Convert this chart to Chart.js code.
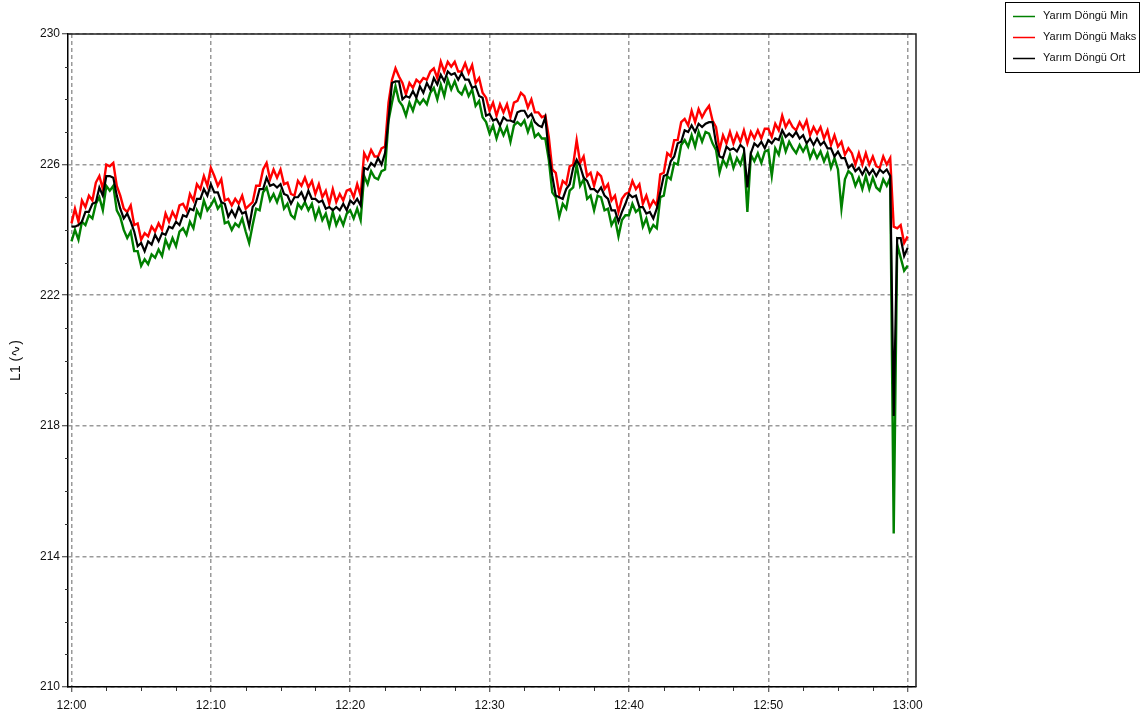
<!DOCTYPE html>
<html><head><meta charset="utf-8">
<script src="https://cdn.jsdelivr.net/npm/chart.js@4.4.1/dist/chart.umd.min.js"></script>
<style>html,body{margin:0;padding:0;background:#fff;}canvas{display:block;}</style>
</head><body>
<canvas id="c" width="1142" height="722"></canvas>
<script>
// ---- data ----
const seriesLabels = ['Yarım Döngü Min', 'Yarım Döngü Maks', 'Yarım Döngü Ort'];
const seriesColors = ['#008000', '#ff0000', '#000000'];
const startMinute = 0;        // 12:00
const stepMinutes = 0.25;     // sample spacing (minutes)
const yTickValues = [210, 214, 218, 222, 226, 230];
const xTickMinutes = [0, 10, 20, 30, 40, 50, 60];
const yTitle = 'L1 (\u223F)';

const minValues = [
223.65,224.0,223.7,224.25,224.15,224.45,224.35,224.8,
225.0,224.6,225.35,225.2,225.35,224.6,224.4,224.0,
223.75,223.95,223.35,223.35,222.9,223.1,222.95,223.25,
223.15,223.4,223.2,223.7,223.45,223.75,223.5,223.95,
224.05,223.85,224.25,224.05,224.6,224.4,224.9,224.6,
224.75,224.95,224.65,224.8,224.2,224.25,224.0,224.2,
224.1,224.35,223.95,223.6,224.15,224.65,224.6,225.15,
225.3,224.9,225.1,224.85,225.15,224.65,224.8,224.45,
224.35,224.8,224.65,224.85,224.6,224.8,224.35,224.65,
224.3,224.5,224.1,224.55,224.15,224.4,224.15,224.5,
224.6,224.35,224.65,224.3,225.65,225.4,225.8,225.6,
225.55,225.8,225.85,227.35,227.9,228.4,227.95,227.8,
227.5,227.9,227.65,228.0,227.85,228.0,227.85,228.2,
228.35,228.0,228.45,228.1,228.6,228.3,228.55,228.25,
228.15,228.4,228.1,228.3,227.8,227.95,227.45,227.3,
226.95,227.2,226.8,227.15,226.9,227.15,226.7,227.2,
227.3,227.2,227.35,227.0,227.3,226.85,226.95,226.8,
226.8,226.15,225.15,225.0,224.4,224.8,224.65,225.2,
225.3,226.0,225.35,225.55,224.95,225.05,224.6,225.05,
225.0,224.6,224.65,224.15,224.35,223.8,224.3,224.45,
224.45,224.8,224.55,224.65,224.1,224.35,223.95,224.15,
224.05,225.0,225.05,225.65,225.55,226.05,226.0,226.6,
226.75,226.55,226.9,226.55,227.0,226.7,227.0,226.95,
226.65,226.45,225.75,226.15,225.95,226.3,225.9,226.2,
226.0,226.35,224.55,226.3,226.1,226.35,226.05,226.4,
226.45,225.65,226.5,226.3,226.8,226.4,226.7,226.5,
226.35,226.6,226.4,226.6,226.2,226.45,226.2,226.4,
226.1,226.35,225.9,226.2,225.85,224.65,225.55,225.8,
225.7,225.35,225.6,225.25,225.65,225.25,225.6,225.3,
225.2,225.55,225.35,225.6,214.7,223.55,223.15,222.75,
222.9
];

const maxValues = [
224.2,224.65,224.25,224.9,224.7,225.05,224.9,225.45,
225.65,225.25,226.0,225.95,226.05,225.35,225.05,224.65,
224.55,224.75,224.15,224.2,223.7,223.9,223.8,224.1,
223.95,224.2,224.0,224.5,224.25,224.55,224.35,224.75,
224.8,224.6,225.1,224.9,225.4,225.25,225.65,225.35,
225.9,225.65,225.35,225.55,224.9,224.95,224.75,224.95,
224.8,225.05,224.65,224.75,224.85,225.35,225.35,225.85,
226.05,225.55,225.85,225.6,225.85,225.4,225.45,225.1,
225.05,225.5,225.35,225.6,225.3,225.5,225.1,225.4,
225.0,225.2,224.8,225.25,224.85,225.1,224.9,225.2,
225.25,225.0,225.4,225.05,226.35,226.15,226.45,226.25,
226.25,226.5,226.55,227.9,228.6,228.95,228.7,228.5,
228.15,228.5,228.35,228.6,228.5,228.65,228.6,228.85,
228.95,228.65,229.15,228.85,229.15,229.0,229.15,228.85,
228.85,229.1,228.8,229.05,228.5,228.65,228.2,228.05,
227.65,227.9,227.5,227.85,227.6,227.85,227.45,227.9,
227.95,228.2,228.1,227.75,228.0,227.6,227.6,227.45,
227.5,226.85,225.85,225.75,225.1,225.5,225.4,225.95,
226.0,226.75,226.05,226.25,225.65,225.75,225.35,225.75,
225.65,225.25,225.4,224.9,225.05,224.55,224.95,225.1,
225.15,225.5,225.25,225.4,224.8,225.05,224.7,224.9,
224.75,225.7,225.75,226.35,226.25,226.75,226.75,227.3,
227.4,227.2,227.65,227.3,227.7,227.45,227.65,227.8,
227.35,227.15,226.45,226.9,226.65,227.0,226.65,226.95,
226.7,227.05,226.65,227.0,226.8,227.05,226.8,227.1,
227.1,226.85,227.25,227.05,227.5,227.15,227.35,227.15,
227.05,227.3,227.1,227.35,226.9,227.15,226.95,227.15,
226.8,227.05,226.6,226.9,226.55,226.7,226.3,226.5,
226.35,226.0,226.35,226.0,226.35,226.0,226.25,225.95,
225.9,226.25,226.0,226.2,224.1,224.05,224.15,223.6,
223.8
];

const avgValues = [
224.1,224.1,224.15,224.25,224.55,224.55,224.8,224.85,
225.3,225.05,225.65,225.65,225.6,225.05,224.65,224.35,
224.5,224.25,223.95,223.5,223.6,223.35,223.65,223.55,
223.85,223.65,223.9,223.85,224.1,224.05,224.25,224.15,
224.45,224.4,224.65,224.6,224.95,224.95,225.25,225.05,
225.4,225.15,225.15,224.85,224.8,224.4,224.6,224.4,
224.7,224.5,224.55,224.1,224.7,224.85,225.25,225.25,
225.6,225.35,225.4,225.3,225.4,225.1,225.05,224.8,
225.0,225.0,225.15,224.9,225.2,224.95,224.95,224.85,
224.9,224.65,224.7,224.6,224.7,224.6,224.8,224.6,
224.9,224.8,224.95,224.75,225.9,225.85,226.05,225.95,
226.2,226.0,226.35,227.4,228.5,228.55,228.55,228.0,
228.1,228.05,228.25,228.05,228.4,228.2,228.5,228.3,
228.65,228.45,228.75,228.55,228.85,228.75,228.8,228.6,
228.8,228.6,228.6,228.35,228.4,228.1,228.05,227.5,
227.55,227.35,227.4,227.2,227.45,227.35,227.35,227.3,
227.6,227.65,227.65,227.45,227.55,227.3,227.2,227.15,
227.45,226.35,225.65,225.05,225.0,224.95,225.25,225.4,
225.9,226.15,225.95,225.6,225.5,225.25,225.25,225.15,
225.3,225.05,224.95,224.6,224.6,224.25,224.55,224.8,
225.1,225.0,225.05,224.7,224.7,224.5,224.55,224.35,
224.65,225.15,225.65,225.7,226.1,226.25,226.65,226.7,
227.05,227.0,227.2,227.0,227.25,227.15,227.25,227.3,
227.3,226.65,226.25,226.2,226.55,226.45,226.5,226.4,
226.6,226.5,225.3,226.35,226.65,226.55,226.7,226.5,
226.75,226.65,226.8,226.75,227.05,226.85,226.95,226.85,
227.0,226.8,226.9,226.65,226.8,226.6,226.8,226.6,
226.7,226.5,226.5,226.25,226.4,226.2,226.2,225.9,
226.0,225.8,225.9,225.7,225.9,225.7,225.85,225.65,
225.85,225.75,225.85,225.65,218.3,223.75,223.75,223.2,
223.45
];

// ---- build library structures ----
function toPoints(values) {
  return values.map((v, i) => ({ x: startMinute + i * stepMinutes, y: v }));
}
const valueSets = [minValues, maxValues, avgValues];
const widths = [2.4, 2.4, 2.2];
const drawOrder = [2, 1, 0];

const fontFam = '"Liberation Sans", Arial, sans-serif';

function fmtTime(m) {
  const total = 12 * 60 + Math.round(m);
  const h = Math.floor(total / 60), mm = total % 60;
  return h + ':' + String(mm).padStart(2, '0');
}

const minorTicksPlugin = {
  id: 'minorTicks',
  afterDraw(chart) {
    const ctx = chart.ctx, xs = chart.scales.x, ys = chart.scales.y, a = chart.chartArea;
    ctx.save();
    ctx.strokeStyle = '#333';
    ctx.lineWidth = 1;
    for (let v = ys.min + 1; v < ys.max; v += 1) {
      if (yTickValues.includes(v)) continue;
      const py = Math.round(ys.getPixelForValue(v)) + 0.5;
      ctx.beginPath(); ctx.moveTo(a.left - 3, py); ctx.lineTo(a.left, py); ctx.stroke();
    }
    for (let m = 2.5; m < 60; m += 2.5) {
      if (xTickMinutes.includes(m)) continue;
      const px = Math.round(xs.getPixelForValue(m)) + 0.5;
      ctx.beginPath(); ctx.moveTo(px, a.bottom); ctx.lineTo(px, a.bottom + 4); ctx.stroke();
    }
    ctx.strokeStyle = '#222';
    ctx.lineWidth = 1.5;
    ctx.beginPath();
    ctx.moveTo(a.left, a.top); ctx.lineTo(a.right, a.top); ctx.lineTo(a.right, a.bottom);
    ctx.stroke();
    ctx.restore();
  }
};

const legendPlugin = {
  id: 'boxLegend',
  afterDraw(chart) {
    const ctx = chart.ctx;
    const bx = 1005, by = 2, bw = 134, bh = 70;
    ctx.save();
    ctx.fillStyle = '#fff';
    ctx.fillRect(bx, by, bw, bh);
    ctx.strokeStyle = '#000';
    ctx.lineWidth = 1;
    ctx.strokeRect(bx + 0.5, by + 0.5, bw, bh);
    ctx.font = '11px ' + fontFam;
    ctx.textBaseline = 'middle';
    chart.data.datasets.forEach((ds, i) => {
      const cy = by + 14 + i * 21;
      ctx.strokeStyle = ds.borderColor;
      ctx.lineWidth = 1.5;
      ctx.beginPath(); ctx.moveTo(bx + 8, cy + 0.5); ctx.lineTo(bx + 30, cy + 0.5); ctx.stroke();
      ctx.fillStyle = '#111';
      ctx.fillText(ds.label, bx + 38, cy);
    });
    ctx.restore();
  }
};

new Chart(document.getElementById('c'), {
  type: 'line',
  data: {
    datasets: seriesLabels.map((lab, i) => ({
      label: lab,
      data: toPoints(valueSets[i]),
      borderColor: seriesColors[i],
      backgroundColor: seriesColors[i],
      borderWidth: widths[i],
      pointRadius: 0,
      tension: 0,
      fill: false,
      order: drawOrder[i]
    }))
  },
  options: {
    responsive: false,
    animation: false,
    devicePixelRatio: 1,
    layout: { padding: { left: 0, top: 34, right: 226, bottom: 0 } },
    plugins: { legend: { display: false }, tooltip: { enabled: false } },
    scales: {
      x: {
        type: 'linear',
        min: -0.25,
        max: 60.6,
        afterBuildTicks(scale) { scale.ticks = xTickMinutes.map(v => ({ value: v })); },
        afterFit(scale) { scale.height = 35; },
        ticks: {
          callback: v => fmtTime(v),
          color: '#111',
          font: { family: fontFam, size: 12 },
          padding: 6,
          maxRotation: 0,
          autoSkip: false
        },
        grid: { color: '#9a9a9a', lineWidth: 1.5, tickLength: 5, tickColor: '#333', tickWidth: 1 },
        border: { display: true, color: '#000', width: 1.5, dash: [4, 3] }
      },
      y: {
        type: 'linear',
        min: 210,
        max: 230,
        afterBuildTicks(scale) { scale.ticks = yTickValues.map(v => ({ value: v })); },
        afterFit(scale) { scale.width = 68; },
        ticks: {
          color: '#111',
          font: { family: fontFam, size: 12 },
          padding: 2
        },
        title: {
          display: true,
          text: yTitle,
          color: '#111',
          font: { family: fontFam, size: 14 },
          padding: { top: 8, bottom: 0 }
        },
        grid: { color: '#9a9a9a', lineWidth: 1.5, tickLength: 6, tickColor: '#333', tickWidth: 1 },
        border: { display: true, color: '#000', width: 1.5, dash: [4, 3] }
      }
    }
  },
  plugins: [minorTicksPlugin, legendPlugin]
});
</script>
</body></html>
